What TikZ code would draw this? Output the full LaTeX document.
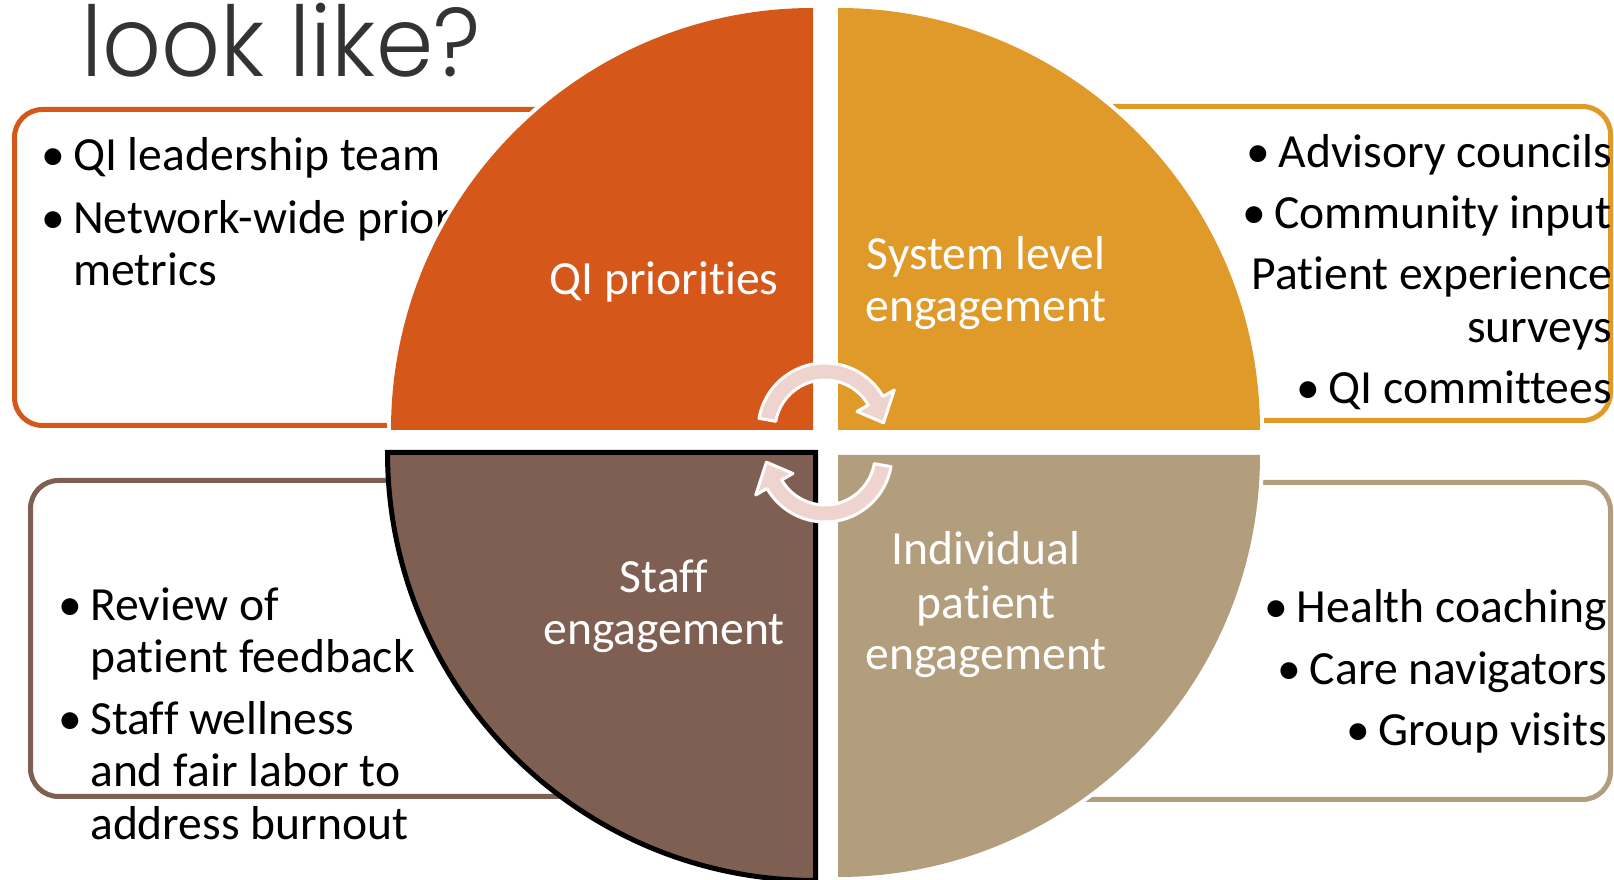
\documentclass[tikz,border=0pt]{standalone}
\usepackage{fontspec}
\setmainfont{Carlito}[Ligatures={NoCommon,NoContextual}]
\newfontfamily\titlefont{Poppins Light}
\definecolor{qorange}{HTML}{D5581A}
\definecolor{qyellow}{HTML}{E09A2A}
\definecolor{qbrown}{HTML}{7E5F52}
\definecolor{qtan}{HTML}{B29D7D}
\definecolor{cyclepink}{HTML}{EFD3CF}
\definecolor{titlegray}{HTML}{333333}
\newcommand\bul{\makebox[32pt][l]{•}}
\begin{document}
\begin{tikzpicture}[x=1pt,y=1pt,
  infobox/.style={line width=5pt, rounded corners=28pt},
  body/.style={inner sep=0pt, font=\fontsize{47.6}{52}\selectfont, text=black},
  lbl/.style={inner sep=0pt, font=\fontsize{47.6}{52}\selectfont, text=white, anchor=base},
  cyclearrow/.style={fill=cyclepink, draw=white, line width=3pt, line join=round}]
\useasboundingbox (0,0) rectangle (1614,880);

% title line
\node[anchor=base west, inner sep=0pt, text=titlegray,
      font=\titlefont\fontsize{92}{92}\selectfont] (title) at (81,803)
      {\scalebox{1}[1.06]{look like?}};

% rounded text panels behind the quadrants
\draw[infobox, draw=qorange] (14.5,454.5) rectangle (826,770.5);
\draw[infobox, draw=qyellow] (826,459.5) rectangle (1610.5,773.5);
\draw[infobox, draw=qbrown]  (30.5,83.5)  rectangle (826,399.5);
\draw[infobox, draw=qtan]    (826,80.5)   rectangle (1610.5,397.5);

% panel texts
\node[body, anchor=base west] (ql1) at (41,709) {\bul QI leadership team};
\node[body, anchor=base west] (ql2) at (41,646) {\bul Network-wide priorities and};
\node[body, anchor=base west] (ql3) at (73,594) {metrics};

\node[body, anchor=base east] (sy1) at (1612,712)   {\bul Advisory councils};
\node[body, anchor=base east] (sy2) at (1612,651.5) {\bul Community input};
\node[body, anchor=base east] (sy3) at (1612,590)   {Patient experience};
\node[body, anchor=base east] (sy4) at (1612,537)   {surveys};
\node[body, anchor=base east] (sy5) at (1612,476.5) {\bul QI committees};

\node[body, anchor=base west] (st1) at (58,259) {\bul Review of};
\node[body, anchor=base west] (st2) at (90,207) {patient feedback};
\node[body, anchor=base west] (st3) at (58,145) {\bul Staff wellness};
\node[body, anchor=base west] (st4) at (90,93)  {and fair labor to};
\node[body, anchor=base west] (st5) at (90,40)  {address burnout};

\node[body, anchor=base east] (ip1) at (1607,257)   {\bul Health coaching};
\node[body, anchor=base east] (ip2) at (1607,195.5) {\bul Care navigators};
\node[body, anchor=base east] (ip3) at (1607,134)   {\bul Group visits};

% white gap between the left and right halves
\fill[white] (813,0) rectangle (838,880);

% quadrants with white rims
\draw[white, line width=8pt] (813,450) -- (391,450) arc[start angle=180, end angle=90, radius=422pt] -- cycle;
\fill[qorange] (813,450) -- (391,450) arc[start angle=180, end angle=90, radius=422pt] -- cycle;
\draw[white, line width=8pt] (838,450) -- (838,872) arc[start angle=90, end angle=0, radius=422pt] -- cycle;
\fill[qyellow] (838,450) -- (838,872) arc[start angle=90, end angle=0, radius=422pt] -- cycle;
\draw[white, line width=8pt] (838,425) -- (1260,425) arc[start angle=0, end angle=-90, radius=422pt] -- cycle;
\fill[qtan] (838,425) -- (1260,425) arc[start angle=0, end angle=-90, radius=422pt] -- cycle;
\fill[qbrown] (815.5,427.5) -- (387.5,427.5) arc[start angle=180, end angle=270, radius=428pt] -- cycle;
\draw[black, line width=5pt, line join=miter] (815.5,427.5) -- (387.5,427.5) arc[start angle=180, end angle=270, radius=428pt] -- cycle;

% quadrant labels
\node[lbl] (qi)   at (664,585)   {QI priorities};
\node[lbl] (sl1)  at (986,610)   {System level};
\node[lbl] (sl2)  at (986,558)   {engagement};
\node[lbl] (sf1)  at (664,287)   {Staff};
\node[lbl] (sf2)  at (664,235)   {engagement};
\node[lbl] (in1)  at (986,315)   {Individual};
\node[lbl] (in2)  at (986,261.4) {patient};
\node[lbl] (in3)  at (986,210)   {engagement};

% circular arrows in the middle
\begin{scope}[shift={(825,450)}]
  \draw[cyclearrow] (170:67) arc[start angle=170, end angle=30, radius=67pt]
    -- (30:80) -- (7:59) -- (30:37) -- (30:50)
    arc[start angle=30, end angle=170, radius=50pt] -- cycle;
\end{scope}
\begin{scope}[shift={(825,425)}]
  \draw[cyclearrow] (-10:67) arc[start angle=-10, end angle=-150, radius=67pt]
    -- (-150:80) -- (-173:59) -- (-150:37) -- (-150:50)
    arc[start angle=-150, end angle=-10, radius=50pt] -- cycle;
\end{scope}
\end{tikzpicture}
\end{document}
